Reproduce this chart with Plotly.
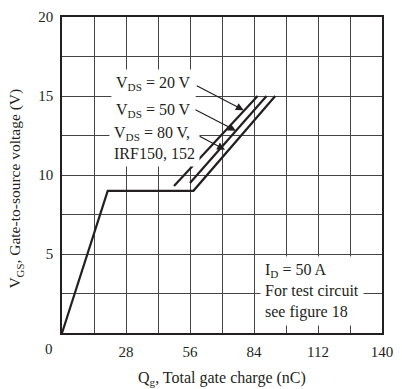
import plotly.graph_objects as go

# gate charge curves (Qg in nC, Vgs in V)
q_80v = [0, 20, 57.5, 93.3]
v_80v = [0, 9, 9, 15]
q_50v = [56, 89.5]
v_50v = [9.5, 15]
q_20v = [49, 85.6]
v_20v = [9.3, 15]

x_grid = [0, 14, 28, 42, 56, 70, 84, 98, 112, 126, 140]
x_labels = ['', '', '28', '', '56', '', '84', '', '112', '', '140']
y_grid = [0, 2.5, 5, 7.5, 10, 12.5, 15, 17.5, 20]
y_labels = ['', '', '5', '', '10', '', '15', '', '20']

FONT = 'Liberation Serif'
INK = '#231f20'

fig = go.Figure()
for q, v in [(q_80v, v_80v), (q_50v, v_50v), (q_20v, v_20v)]:
    fig.add_trace(go.Scatter(x=q, y=v, mode='lines', line=dict(color=INK, width=2.2),
                             showlegend=False, hoverinfo='skip'))

# arrows from labels to curves: (tail q, tail v, head q, head v)
arrows = [(58.3, 15.7, 79.5, 14.1), (57.5, 14.2, 76.1, 12.8), (58.3, 12.6, 71.3, 11.6)]
for tq, tv, hq, hv in arrows:
    fig.add_annotation(x=hq, y=hv, ax=tq, ay=tv, xref='x', yref='y', axref='x', ayref='y',
                       text='', showarrow=True, arrowhead=2, arrowsize=1.3, arrowwidth=1.2,
                       arrowcolor=INK)

labels = [
    ('V<sub>DS</sub> = 20 V', 40.2, 15.8, 'center'),
    ('V<sub>DS</sub> = 50 V', 40.2, 14.1, 'center'),
    ('V<sub>DS</sub> = 80 V,<br>IRF150, 152', 20.5, 12.0, 'left'),
    ('I<sub>D</sub> = 50 A<br>For test circuit<br>see figure 18', 86.5, 2.65, 'left'),
]
for txt, x, y, anc in labels:
    fig.add_annotation(x=x, y=y, xref='x', yref='y', text=txt, showarrow=False,
                       xanchor=anc, yanchor='middle', align='left', bgcolor='white',
                       borderpad=4, font=dict(family=FONT, size=16, color=INK))

fig.add_annotation(x=0, y=0, xref='x', yref='y', text='0', showarrow=False,
                   xshift=-13, yshift=-16, font=dict(family=FONT, size=15, color=INK))
fig.add_annotation(x=0, y=0.457, xref='paper', yref='paper', xshift=-46, textangle=-90,
                   xanchor='center', yanchor='middle',
                   text='V<sub>GS</sub>, Gate-to-source voltage (V)', showarrow=False,
                   font=dict(family=FONT, size=15.5, color=INK))
fig.add_annotation(x=0.5, y=-0.145, xref='paper', yref='paper', xanchor='center',
                   yanchor='middle', text='Q<sub>g</sub>, Total gate charge (nC)',
                   showarrow=False, font=dict(family=FONT, size=16, color=INK))

axis = dict(showgrid=True, gridcolor='#444444', gridwidth=1, zeroline=False,
            showline=True, linecolor=INK, linewidth=1.5, mirror=True, ticks='',
            ticklabelstandoff=4, tickfont=dict(family=FONT, size=15, color=INK))
fig.update_xaxes(range=[0, 140], tickmode='array', tickvals=x_grid, ticktext=x_labels, **axis)
fig.update_yaxes(range=[0, 20], tickmode='array', tickvals=y_grid, ticktext=y_labels, **axis)

fig.update_layout(width=402, height=389, margin=dict(l=62, r=16, t=9, b=56),
                  plot_bgcolor='white', paper_bgcolor='white')
fig.write_html('out.html', config={'displayModeBar': False},
               post_script="document.body.style.margin='0';")
